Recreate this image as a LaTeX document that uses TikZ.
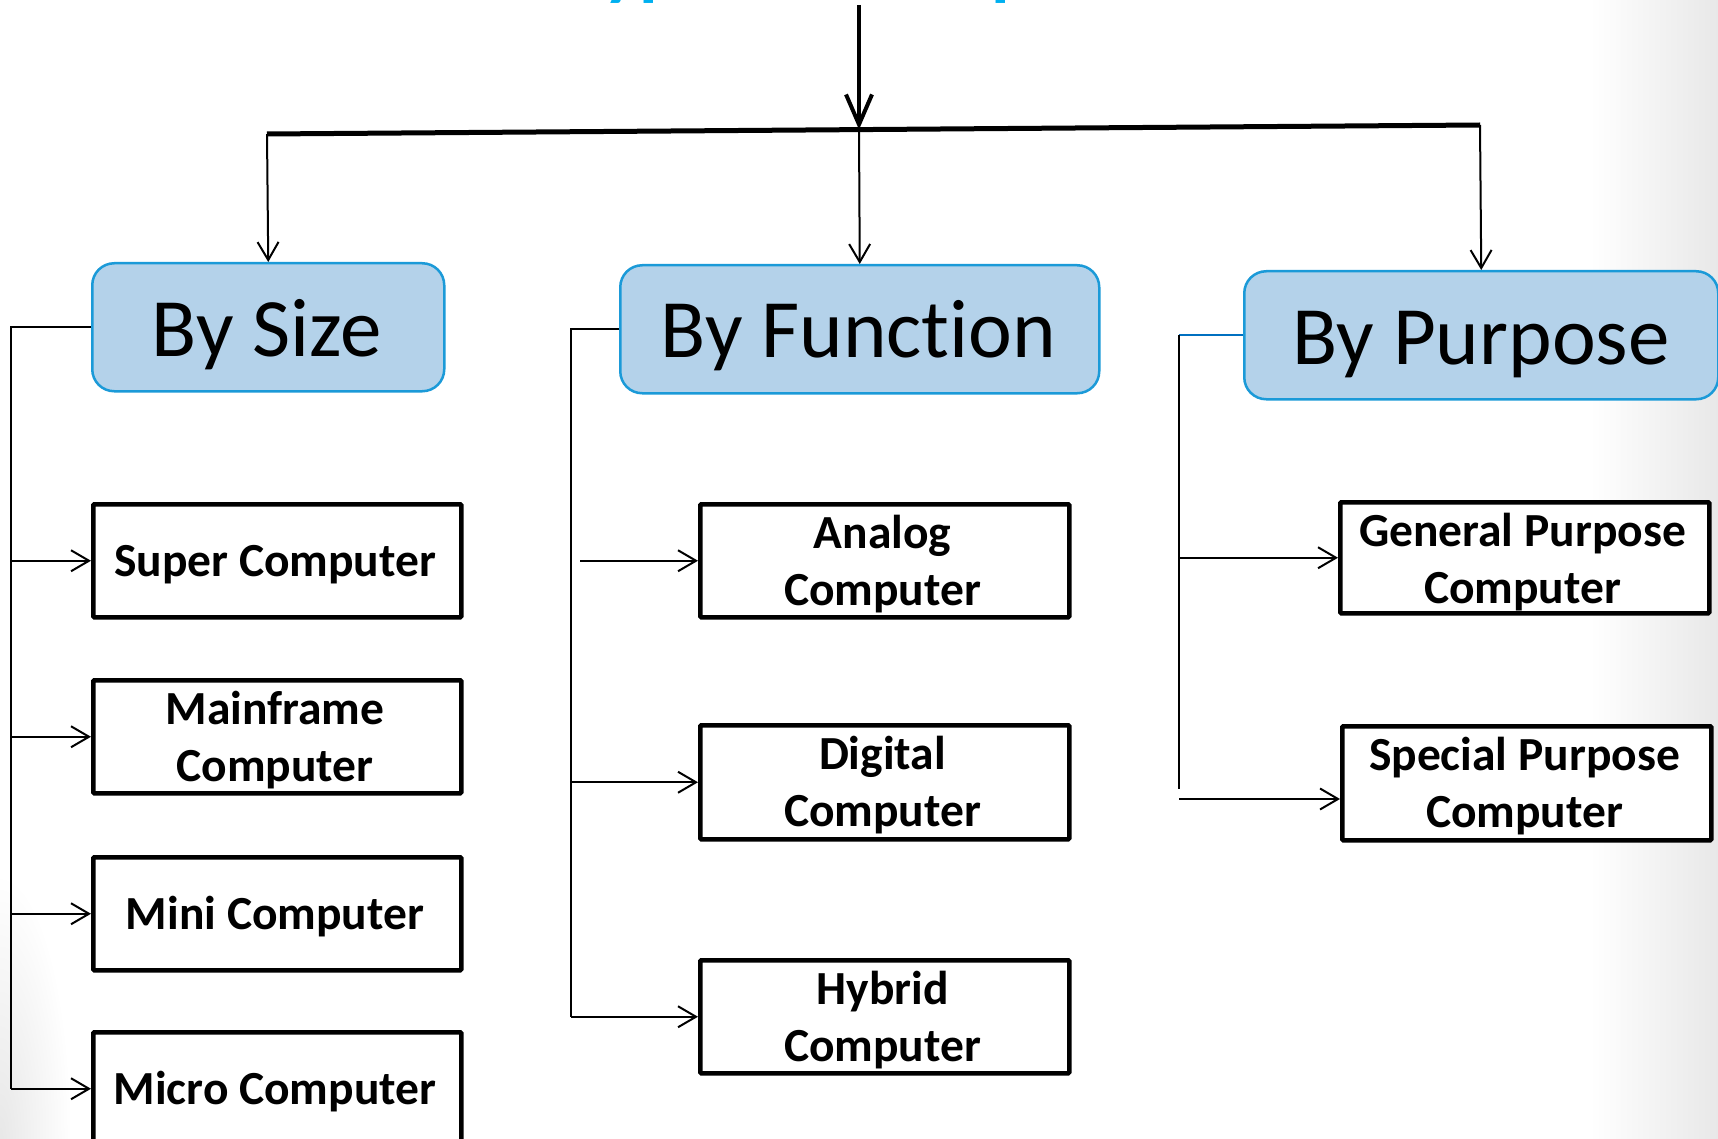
\documentclass[tikz,border=0pt]{standalone}
\usepackage{fontspec}
\setmainfont{Carlito}[Ligatures={NoCommon}]
\usetikzlibrary{arrows.meta,fadings}
\definecolor{boxfill}{HTML}{B4D2EA}
\definecolor{boxline}{HTML}{1B9AD8}
\definecolor{titleblue}{HTML}{00B0F0}
\definecolor{linkblue}{HTML}{0070C0}
\tikzfading[name=blfade, inner color=transparent!0, outer color=transparent!100]
\begin{document}
\begin{tikzpicture}[x=1pt,y=-1pt,
  cat/.style={draw=boxline,fill=boxfill,line width=2.5pt,rounded corners=22pt,anchor=north west,inner sep=0pt,minimum height=128pt},
  item/.style={draw=black,fill=white,line width=4.5pt,anchor=north west,inner sep=0pt,rounded corners=1pt,minimum height=113pt},
  catlabel/.style={anchor=base,font=\fontsize{83}{100}\selectfont,inner sep=0pt},
  itemlabel/.style={anchor=base,font=\bfseries\fontsize{47.5}{57}\selectfont,inner sep=0pt},
  conn/.style={line width=2pt},
  arr/.style={conn,-{Straight Barb[length=18pt,width=21pt]}},
]
\useasboundingbox (0,0) rectangle (1718,1139);
\fill[white] (0,0) rectangle (1718,1139);
\shade[left color=white,right color=black!9] (1590,0) rectangle (1718,1139);
\fill[black!9,path fading=blfade] (0,1139) ellipse (70pt and 260pt);

% title (mostly above the frame)
\node[anchor=base,font=\bfseries\fontsize{76}{90}\selectfont,text=titleblue,inner sep=0pt] (title) at (866,-8) {Types of Computer};

% category boxes
\node[cat,minimum width=352pt] (size) at (91,262) {};
\node[cat,minimum width=479pt] (func) at (619,264) {};
\node[cat,minimum width=474pt] (purp) at (1243,270) {};
\node[catlabel] (sizeT) at (267,356) {By Size};
\node[catlabel] (funcT) at (858.5,358) {By Function};
\node[catlabel] (purpT) at (1481,365) {By Purpose};

% top distribution
\coordinate (tstart) at (859,5);
\coordinate (hl) at (267,134);
\coordinate (hm) at (859,129.5);
\coordinate (hr) at (1480,125);
\draw[line width=5pt] (hl) -- (hr);
\draw[line width=4pt,-{Straight Barb[length=30pt,width=26pt]}] (tstart) -- (hm);
\draw[arr] (hl) -- (size.north);
\draw[arr] (hm) -- (func.north);
\draw[arr] (hr) -- (purp.north);

% item boxes
\node[item,minimum width=368pt] (super) at (91,502) {};
\node[item,minimum width=368pt] (mainframe) at (91,678) {};
\node[item,minimum width=368pt] (mini) at (91,855) {};
\node[item,minimum width=368pt] (micro) at (91,1030) {};
\node[item,minimum width=369pt] (analog) at (698,502) {};
\node[item,minimum width=369pt,minimum height=114pt] (digital) at (698,723) {};
\node[item,minimum width=369pt] (hybrid) at (698,958) {};
\node[item,minimum width=369pt,minimum height=111pt] (general) at (1338,500) {};
\node[item,minimum width=369pt,minimum height=114pt] (special) at (1340,724) {};

% item labels
\node[itemlabel] (superT) at (275,576) {Super Computer};
\node[itemlabel] (mainframeT1) at (275,724) {Mainframe};
\node[itemlabel] (mainframeT2) at (275,781) {Computer};
\node[itemlabel] (miniT) at (275,929) {Mini Computer};
\node[itemlabel] (microT) at (275,1104) {Micro Computer};
\node[itemlabel] (analogT1) at (882.5,548) {Analog};
\node[itemlabel] (analogT2) at (882.5,605) {Computer};
\node[itemlabel] (digitalT1) at (882.5,769) {Digital};
\node[itemlabel] (digitalT2) at (882.5,826) {Computer};
\node[itemlabel] (hybridT1) at (882.5,1004) {Hybrid};
\node[itemlabel] (hybridT2) at (882.5,1061) {Computer};
\node[itemlabel] (generalT1) at (1522.5,546) {General Purpose};
\node[itemlabel] (generalT2) at (1522.5,603) {Computer};
\node[itemlabel] (specialT1) at (1524.5,770) {Special Purpose};
\node[itemlabel] (specialT2) at (1524.5,827) {Computer};

% by size bus
\coordinate (sbus) at (11,0);
\draw[conn] (size.west) -- (size.west -| sbus) -- (sbus |- micro.west);
\draw[arr] (sbus |- super.west) -- (super.west);
\draw[arr] (sbus |- mainframe.west) -- (mainframe.west);
\draw[arr] (sbus |- mini.west) -- (mini.west);
\draw[arr] (sbus |- micro.west) -- (micro.west);

% by function bus
\coordinate (fbus) at (571,0);
\coordinate (fgap) at (580,0);
\draw[conn] (func.west) -- (func.west -| fbus) -- (fbus |- hybrid.west);
\draw[arr] (fgap |- analog.west) -- (analog.west);
\draw[arr] (fbus |- digital.west) -- (digital.west);
\draw[arr] (fbus |- hybrid.west) -- (hybrid.west);

% by purpose bus
\coordinate (pbus) at (1179,0);
\coordinate (pend) at (1179,789);
\coordinate (sps) at (1179,799);
\draw[conn,linkblue] (purp.west) -- (purp.west -| pbus);
\draw[conn] (purp.west -| pbus) -- (pend);
\draw[arr] (pbus |- general.west) -- (general.west);
\draw[arr] (sps) -- (sps -| special.west);
\end{tikzpicture}
\end{document}
